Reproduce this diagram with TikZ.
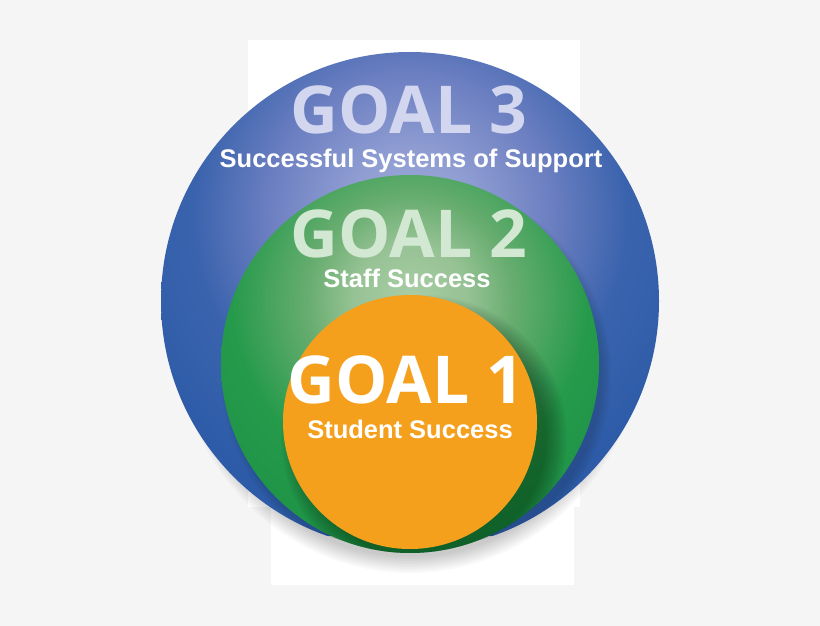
\documentclass[tikz,border=0pt]{standalone}
\usepackage{fontspec}
\usetikzlibrary{positioning}
\newfontfamily\goalfont{Open Sans}
\newfontfamily\subfont{Liberation Sans}
\definecolor{page}{HTML}{F5F5F5}
\definecolor{blueA}{HTML}{9EA9DA}
\definecolor{blueB}{HTML}{8F9DD2}
\definecolor{blueC}{HTML}{6C7FC1}
\definecolor{blueD}{HTML}{3A63AD}
\definecolor{blueE}{HTML}{2D5BA7}
\definecolor{greenA}{HTML}{AACDA6}
\definecolor{greenB}{HTML}{96C294}
\definecolor{greenC}{HTML}{68AD70}
\definecolor{greenD}{HTML}{259A4B}
\definecolor{greenE}{HTML}{1F9447}
\definecolor{orng}{HTML}{F5A01C}
\definecolor{lav}{HTML}{D2D6EE}
\definecolor{mint}{HTML}{D3E8D2}
\pgfdeclareradialshading{blueglow}{\pgfpoint{0bp}{0bp}}{color(0bp)=(blueA); color(5bp)=(blueB); color(11bp)=(blueC); color(17bp)=(blueD); color(24bp)=(blueE); color(75bp)=(blueE)}
\pgfdeclareradialshading{greenglow}{\pgfpoint{0bp}{0bp}}{color(0bp)=(greenA); color(4.5bp)=(greenB); color(8bp)=(greenC); color(14bp)=(greenD); color(19.5bp)=(greenE); color(75bp)=(greenE)}

\begin{document}
\begin{tikzpicture}[x=1pt, y=-1pt,
    goal/.style={anchor=base, inner sep=0pt, text depth=0pt, font=\goalfont\bfseries\fontsize{66}{66}\selectfont},
    sub/.style={anchor=base, inner sep=0pt, text=white, font=\subfont\bfseries\fontsize{25.5}{25.5}\selectfont}]
    \fill[page] (0,0) rectangle (820,626);
    \useasboundingbox (0,0) rectangle (820,626);
    \fill[white] (248,40) rectangle (580,507);
    \fill[white] (271,507) rectangle (574,585);

    % shadow under the outer circle
    \foreach \r in {0,2,...,16}
        \fill[black, opacity=.022] (410,322) ellipse ({220pt+\r pt} and {235pt+\r pt});

    % outer circle
    \begin{scope}
        \clip (410,301) circle (249pt);
        \shade[shading=blueglow] (90,-105) rectangle (730,535);
        \foreach \r in {0,1.5,...,9}
            \fill[black, opacity=.02] (416,374) circle ({186pt+\r pt});
    \end{scope}

    % middle circle
    \begin{scope}
        \clip (410,364) circle (189pt);
        \shade[shading=greenglow] (90,-20) rectangle (730,620);
        \foreach \r in {0,1.5,...,21}
            \fill[black, opacity=.024] (424,438) circle ({122pt+\r pt});
    \end{scope}

    % inner circle
    \fill[orng] (410,422) circle (127pt);

    \node[goal, text=lav] (goal3) at (409,133) {GOAL 3};
    \node[sub] (sub3) at (411,167) {Successful Systems of Support};

    \node[goal, text=mint] (goal2) at (409,257) {GOAL 2};
    \node[sub] (sub2) at (407,287) {Staff Success};

    \node[goal, text=white] (goal1) at (406,403) {GOAL 1};
    \node[sub] (sub1) at (410,438) {Student Success};
\end{tikzpicture}
\end{document}
